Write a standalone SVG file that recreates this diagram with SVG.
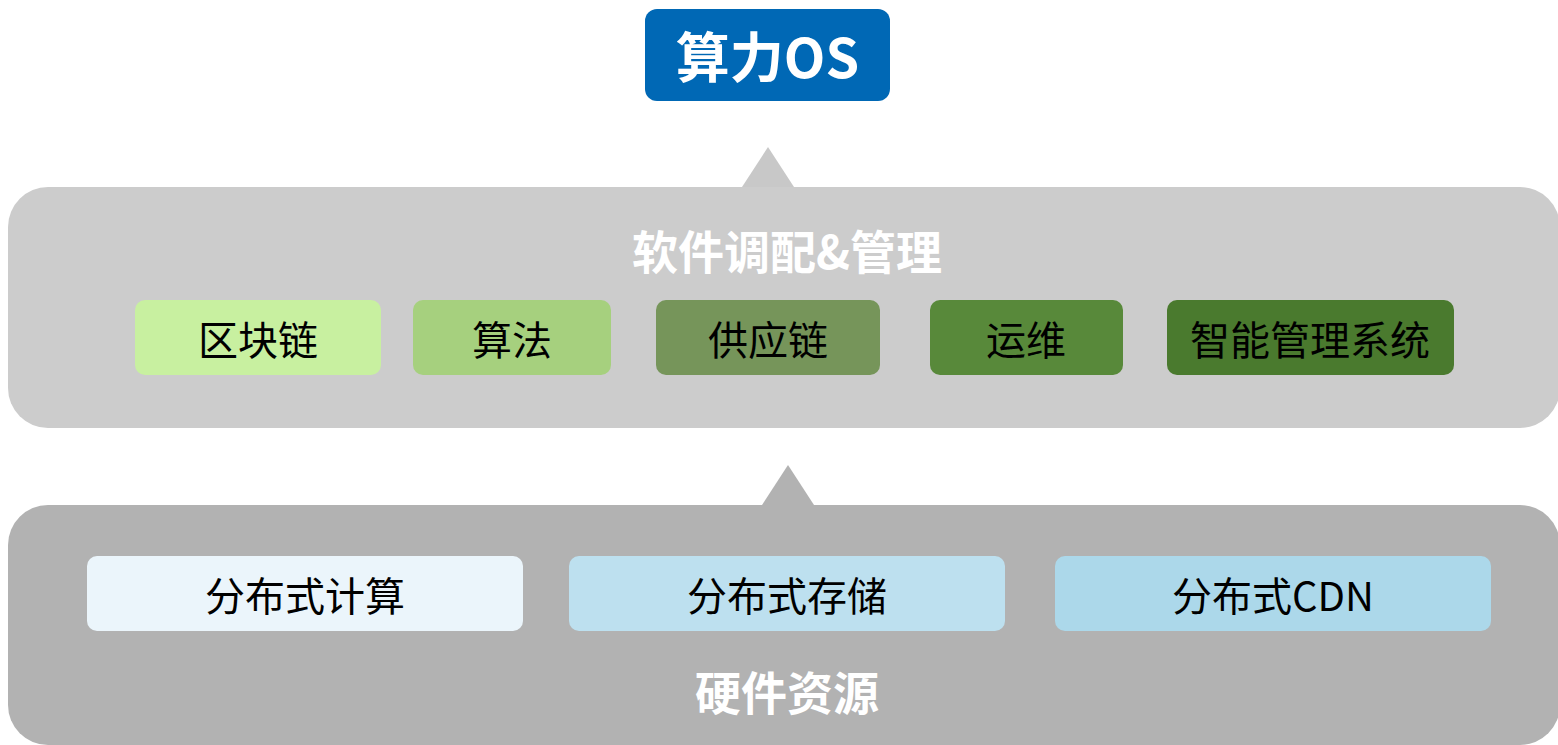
<svg xmlns="http://www.w3.org/2000/svg" width="1558" height="745" viewBox="0 0 1558 745">
<style>
.t{font-family:"Noto Sans CJK SC","Noto Sans",sans-serif;text-anchor:middle;dominant-baseline:central}
.bold{font-weight:bold;fill:#fff}
.lbl{font-size:40px;fill:#000}
</style>
<rect width="1558" height="745" fill="#fff"/>
<g id="connectors">
<polygon points="768,147 742,187 794,187" fill="#c8c8c8"/>
<polygon points="788,465 762,505 814,505" fill="#b2b2b2"/>
</g>
<g id="os">
<rect x="645" y="9" width="245" height="92" rx="12" fill="#0068b5"/>
<text class="t bold" x="767.5" y="54" font-size="54">算力OS</text>
</g>
<g id="software">
<rect x="8" y="187" width="1552" height="241" rx="40" fill="#cccccc"/>
<text class="t bold" x="787" y="249" font-size="46">软件调配&amp;管理</text>
</g>
<g id="blockchain"><rect x="135" y="300" width="246" height="75" rx="10" fill="#c8f0a0"/><text class="t lbl" x="258" y="338">区块链</text></g>
<g id="algorithm"><rect x="413" y="300" width="198" height="75" rx="10" fill="#a6d07e"/><text class="t lbl" x="512" y="338">算法</text></g>
<g id="supply"><rect x="656" y="300" width="224" height="75" rx="10" fill="#76955a"/><text class="t lbl" x="768" y="338">供应链</text></g>
<g id="ops"><rect x="930" y="300" width="193" height="75" rx="10" fill="#58893a"/><text class="t lbl" x="1026" y="338">运维</text></g>
<g id="smart"><rect x="1167" y="300" width="287" height="75" rx="10" fill="#4a7a2e"/><text class="t lbl" x="1310" y="338">智能管理系统</text></g>
<g id="hardware">
<rect x="8" y="505" width="1552" height="240" rx="40" fill="#b2b2b2"/>
<text class="t bold" x="787" y="690" font-size="46">硬件资源</text>
</g>
<g id="compute"><rect x="87" y="556" width="436" height="75" rx="10" fill="#ebf5fb"/><text class="t lbl" x="305" y="594">分布式计算</text></g>
<g id="storage"><rect x="569" y="556" width="436" height="75" rx="10" fill="#bde0ef"/><text class="t lbl" x="787" y="594">分布式存储</text></g>
<g id="cdn"><rect x="1055" y="556" width="436" height="75" rx="10" fill="#acd8ea"/><text class="t lbl" x="1273" y="594">分布式CDN</text></g>
</svg>
